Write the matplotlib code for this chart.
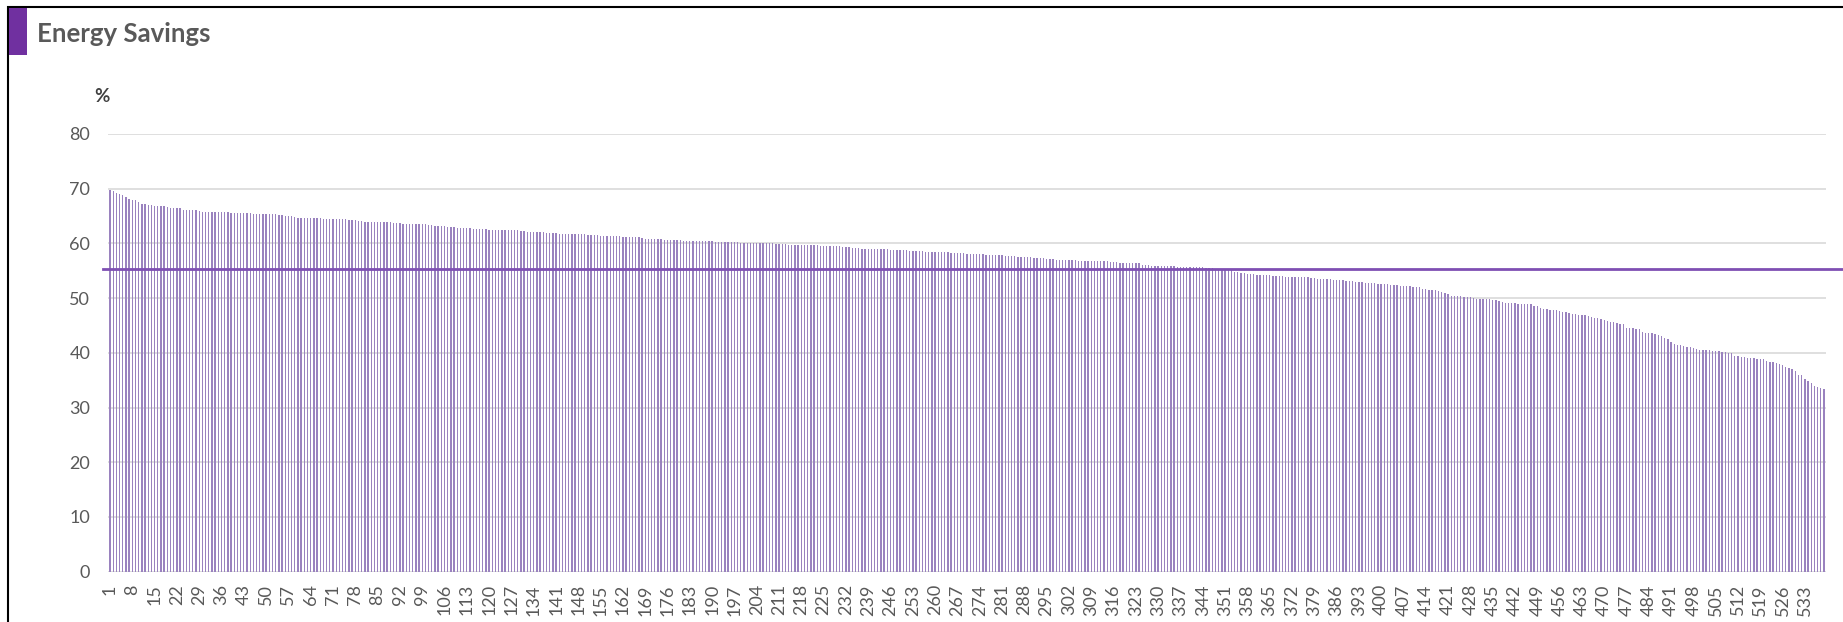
import numpy as np
import matplotlib
matplotlib.use("Agg")
import matplotlib.pyplot as plt
from matplotlib.patches import Rectangle

plt.rcParams['font.family'] = ['Lato', 'DejaVu Sans']

# --- データ ---
savings = [
    69.7, 69.5, 69.3, 69.1, 68.9, 68.4, 68.1, 67.9, 67.9, 67.6,
    67.2, 67.2, 67.0, 67.0, 66.9, 66.8, 66.8, 66.8, 66.7, 66.5,
    66.5, 66.5, 66.4, 66.2, 66.2, 66.2, 66.2, 66.1, 65.9, 65.8,
    65.8, 65.8, 65.8, 65.8, 65.8, 65.75, 65.75, 65.7, 65.6, 65.6,
    65.6, 65.5, 65.5, 65.5, 65.5, 65.4, 65.4, 65.4, 65.4, 65.4,
    65.3, 65.3, 65.3, 65.2, 65.2, 65.0, 65.0, 65.0, 64.9, 64.7,
    64.7, 64.7, 64.7, 64.7, 64.7, 64.7, 64.6, 64.5, 64.5, 64.5,
    64.5, 64.5, 64.5, 64.5, 64.4, 64.3, 64.3, 64.3, 64.1, 64.1,
    64.0, 64.0, 64.0, 64.0, 64.0, 64.0, 64.0, 64.0, 63.9, 63.8,
    63.8, 63.75, 63.6, 63.6, 63.6, 63.6, 63.5, 63.5, 63.5, 63.5,
    63.4, 63.3, 63.1, 63.1, 63.1, 63.1, 63.0, 63.0, 63.0, 62.9,
    62.8, 62.8, 62.8, 62.8, 62.7, 62.6, 62.6, 62.6, 62.6, 62.5,
    62.5, 62.5, 62.4, 62.4, 62.4, 62.4, 62.4, 62.4, 62.4, 62.3,
    62.2, 62.1, 62.1, 62.1, 62.1, 62.1, 62.0, 61.9, 61.9, 61.9,
    61.9, 61.8, 61.7, 61.7, 61.7, 61.7, 61.7, 61.7, 61.7, 61.7,
    61.6, 61.6, 61.55, 61.5, 61.4, 61.4, 61.4, 61.3, 61.3, 61.3,
    61.3, 61.2, 61.2, 61.2, 61.2, 61.1, 61.1, 61.0, 60.9, 60.9,
    60.9, 60.9, 60.85, 60.8, 60.6, 60.6, 60.6, 60.6, 60.6, 60.55,
    60.5, 60.5, 60.45, 60.4, 60.4, 60.4, 60.4, 60.4, 60.4, 60.4,
    60.35, 60.25, 60.2, 60.2, 60.2, 60.2, 60.2, 60.2, 60.1, 60.1,
    60.1, 60.1, 60.05, 60.05, 60.05, 60.0, 60.0, 60.0, 60.0, 59.95,
    59.9, 59.9, 59.85, 59.8, 59.8, 59.8, 59.75, 59.75, 59.75, 59.7,
    59.7, 59.7, 59.65, 59.6, 59.6, 59.6, 59.6, 59.55, 59.5, 59.45,
    59.4, 59.35, 59.3, 59.25, 59.2, 59.1, 59.05, 59.0, 59.0, 59.0,
    58.95, 58.9, 58.9, 58.9, 58.9, 58.85, 58.8, 58.8, 58.8, 58.8,
    58.75, 58.7, 58.65, 58.65, 58.6, 58.55, 58.5, 58.5, 58.5, 58.45,
    58.4, 58.4, 58.4, 58.35, 58.3, 58.25, 58.2, 58.2, 58.2, 58.15,
    58.1, 58.05, 58.0, 58.0, 58.0, 57.95, 57.9, 57.9, 57.9, 57.85,
    57.8, 57.75, 57.7, 57.7, 57.65, 57.6, 57.6, 57.55, 57.5, 57.45,
    57.4, 57.35, 57.3, 57.25, 57.2, 57.15, 57.1, 57.05, 57.0, 57.0,
    56.95, 56.9, 56.9, 56.9, 56.85, 56.85, 56.8, 56.8, 56.8, 56.75,
    56.75, 56.7, 56.7, 56.7, 56.65, 56.6, 56.6, 56.5, 56.5, 56.45,
    56.4, 56.4, 56.4, 56.35, 56.05, 56.0, 56.0, 55.95, 55.95, 55.9,
    55.9, 55.85, 55.85, 55.8, 55.8, 55.75, 55.75, 55.7, 55.7, 55.65,
    55.65, 55.6, 55.6, 55.6, 55.55, 55.5, 55.45, 55.4, 55.35, 55.3,
    55.25, 55.2, 55.1, 54.8, 54.7, 54.6, 54.55, 54.5, 54.45, 54.4,
    54.3, 54.3, 54.25, 54.2, 54.2, 54.1, 54.1, 54.05, 54.0, 53.95,
    53.9, 53.9, 53.9, 53.85, 53.85, 53.8, 53.8, 53.7, 53.6, 53.55,
    53.5, 53.5, 53.45, 53.45, 53.4, 53.4, 53.35, 53.3, 53.2, 53.15,
    53.05, 53.0, 52.95, 52.9, 52.85, 52.8, 52.75, 52.7, 52.65, 52.6,
    52.55, 52.5, 52.45, 52.4, 52.35, 52.3, 52.25, 52.2, 52.15, 52.1,
    52.05, 51.95, 51.65, 51.6, 51.55, 51.5, 51.4, 51.3, 51.1, 50.9,
    50.7, 50.45, 50.35, 50.3, 50.3, 50.25, 50.2, 50.2, 50.1, 49.9,
    49.85, 49.85, 49.8, 49.8, 49.75, 49.7, 49.5, 49.35, 49.2, 49.1,
    49.1, 49.05, 49.0, 49.0, 48.95, 48.9, 48.85, 48.6, 48.5, 48.2,
    48.0, 47.95, 47.9, 47.85, 47.8, 47.6, 47.5, 47.45, 47.3, 47.15,
    47.05, 47.0, 46.9, 46.85, 46.8, 46.6, 46.4, 46.3, 46.1, 45.95,
    45.8, 45.6, 45.55, 45.4, 45.3, 45.2, 44.6, 44.55, 44.5, 44.45,
    44.4, 43.8, 43.65, 43.6, 43.6, 43.5, 43.3, 43.0, 42.8, 42.5,
    42.0, 41.6, 41.5, 41.35, 41.2, 41.1, 41.0, 40.8, 40.7, 40.6,
    40.55, 40.5, 40.45, 40.4, 40.35, 40.3, 40.2, 40.1, 40.05, 40.0,
    39.5, 39.4, 39.3, 39.2, 39.1, 39.05, 39.0, 38.95, 38.9, 38.85,
    38.6, 38.4, 38.3, 38.2, 37.9, 37.7, 37.5, 37.3, 37.0, 36.7,
    36.0, 35.9, 35.2, 34.9, 34.5, 33.9, 33.7, 33.6, 33.4,
]
avg_savings = 55.3
y_ticks = [0, 10, 20, 30, 40, 50, 60, 70, 80]

ids = np.arange(1, len(savings) + 1)
x_ticks = ids[::7]

# --- 図の設定 ---
W, H = 1843, 622
fig = plt.figure(figsize=(W / 100, H / 100), dpi=100)
fig.patch.set_facecolor('white')

# 外枠とタイトル横の紫ブロック
fig.patches.append(Rectangle((8 / W, -0.1), 1.2, (H - 7) / H + 0.1, transform=fig.transFigure,
                             fill=False, edgecolor='black', linewidth=1.5))
fig.patches.append(Rectangle((9 / W, 1 - 55 / H), 18 / W, 47 / H, transform=fig.transFigure,
                             facecolor='#7030A0', edgecolor='none'))
fig.text(37 / W, 1 - 34 / H, 'Energy Savings', fontsize=18.5, fontweight='bold',
         color='#595959', va='center', ha='left')

left = 108.4 / W
right = 1825.6 / W
bottom = (H - 571.7) / H
top = (H - 134) / H
ax = fig.add_axes([left, bottom, right - left, top - bottom])

ax.bar(ids, savings, width=0.42, color='#9a82bf', edgecolor='none', zorder=2)
ax.plot([-0.003, (W - 108.4) / (1825.6 - 108.4)], [avg_savings, avg_savings],
        transform=ax.get_yaxis_transform(), color='#7f4fb3', linewidth=2,
        clip_on=False, zorder=3)

ax.set_xlim(0.5, len(savings) + 0.5)
ax.set_ylim(0, 80)
ax.set_yticks(y_ticks)
ax.set_xticks(x_ticks)
ax.set_xticklabels([str(v) for v in x_ticks], rotation=90)
ax.grid(axis='y', color='#d9d9d9', linewidth=1.2, zorder=0)
ax.set_axisbelow(True)
for s in ax.spines.values():
    s.set_visible(False)
ax.tick_params(axis='both', length=0, labelsize=13, labelcolor='#595959')
ax.tick_params(axis='x', pad=9)
ax.tick_params(axis='y', pad=13)

fig.text(102 / W, 1 - 97 / H, '%', fontsize=13.5, fontweight='bold',
         color='#404040', va='center', ha='center')

fig.savefig('out.png', dpi=100)
